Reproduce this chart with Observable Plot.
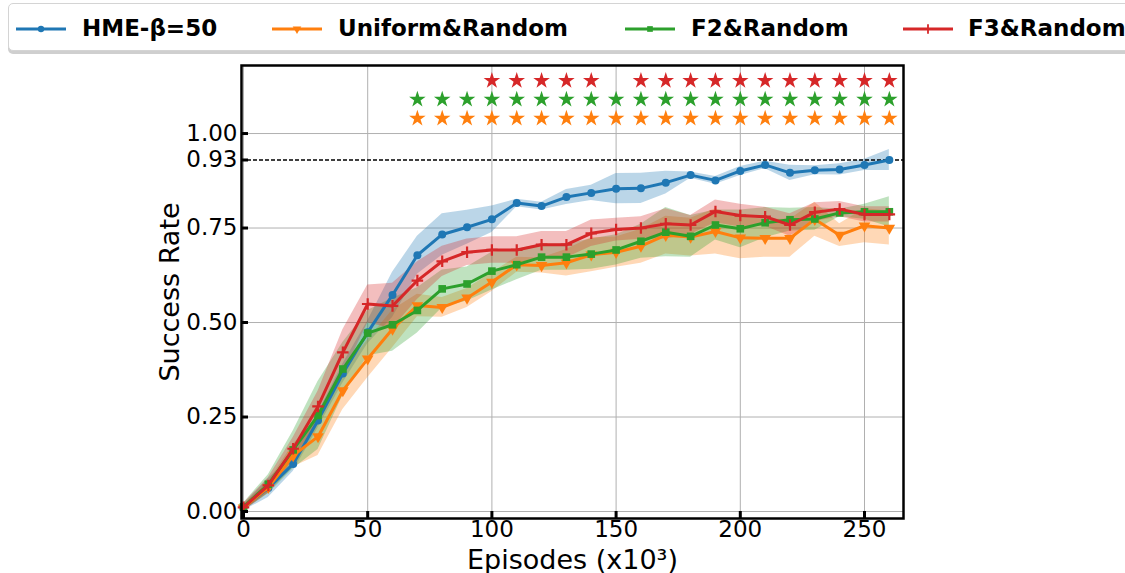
<!DOCTYPE html>
<html>
<head>
<meta charset="utf-8">
<script src="https://cdn.jsdelivr.net/npm/d3@7"></script>
<script src="https://cdn.jsdelivr.net/npm/@observablehq/plot@0.6"></script>
<style>
html, body { margin: 0; padding: 0; background: #fff; width: 1125px; height: 573px; overflow: hidden; }
#legend { position: relative; width: 1125px; height: 55px; overflow: hidden; font-family: "DejaVu Sans"; font-weight: bold; font-size: 23px; color: #000; }
#legend .box { position: absolute; left: 8px; top: 3px; width: 1150px; height: 46px; border: 1px solid #d4d4d4; border-radius: 5px; box-shadow: 0 3px 0 #cfcfcf; background: #fff; }
#legend .sample { position: absolute; top: 19px; }
#legend .label { position: absolute; top: 15px; line-height: 27px; white-space: nowrap; }
#chart svg { display: block; }
</style>
</head>
<body>
<div id="legend"><div class="box"></div></div>
<div id="chart"></div>
<script>
// ---------------- data ----------------
const episodes = [0,10,20,30,40,50,60,70,80,90,100,110,120,130,140,150,160,170,180,190,200,210,220,230,240,250,260];

const seriesNames = ["HME-β=50", "Uniform&Random", "F2&Random", "F3&Random"];
const seriesColors = ["#1f77b4", "#ff7f0e", "#2ca02c", "#d62728"];

const hmeMean = [0.010,0.062,0.126,0.241,0.365,0.474,0.573,0.678,0.733,0.752,0.773,0.816,0.808,
                 0.832,0.843,0.854,0.855,0.870,0.890,0.876,0.901,0.917,0.896,0.903,0.905,0.917,0.930];
const hmeStd  = [0.008,0.025,0.020,0.020,0.025,0.030,0.060,0.050,0.055,0.045,0.035,0.010,0.010,
                 0.020,0.020,0.040,0.040,0.030,0.008,0.010,0.012,0.010,0.020,0.012,0.015,0.015,0.028];

const uniMean = [0.010,0.064,0.148,0.198,0.320,0.404,0.483,0.545,0.540,0.565,0.607,0.653,0.651,
                 0.658,0.679,0.686,0.702,0.731,0.726,0.741,0.724,0.723,0.723,0.773,0.731,0.756,0.750];
const uniStd  = [0.008,0.015,0.030,0.050,0.050,0.050,0.050,0.030,0.026,0.025,0.025,0.020,0.020,
                 0.035,0.045,0.040,0.045,0.050,0.050,0.060,0.055,0.050,0.050,0.045,0.030,0.045,0.045];

const f2Mean  = [0.012,0.072,0.163,0.254,0.377,0.472,0.494,0.532,0.589,0.602,0.636,0.653,0.673,
                 0.673,0.681,0.692,0.715,0.739,0.728,0.758,0.748,0.764,0.772,0.774,0.790,0.793,0.793];
const f2Std   = [0.010,0.025,0.050,0.090,0.070,0.060,0.070,0.060,0.050,0.045,0.050,0.040,0.035,
                 0.035,0.040,0.040,0.045,0.065,0.055,0.040,0.050,0.040,0.030,0.030,0.010,0.020,0.040];

const f3Mean  = [0.011,0.069,0.166,0.278,0.421,0.549,0.544,0.611,0.662,0.686,0.692,0.692,0.706,
                 0.706,0.736,0.746,0.750,0.761,0.758,0.794,0.783,0.780,0.758,0.792,0.800,0.786,0.786];
const f3Std   = [0.010,0.020,0.030,0.040,0.060,0.050,0.060,0.050,0.040,0.035,0.035,0.035,0.035,
                 0.035,0.035,0.030,0.030,0.040,0.025,0.030,0.030,0.025,0.030,0.025,0.020,0.020,0.020];

// significance markers (episodes where a star is shown)
const uniStars = [70,80,90,100,110,120,130,140,150,160,170,180,190,200,210,220,230,240,250,260];
const f2Stars  = [70,80,90,100,110,120,130,140,150,160,170,180,190,200,210,220,230,240,250,260];
const f3Stars  = [100,110,120,130,140,160,170,180,190,200,210,220,230,240,250,260];

const threshold = 0.93;
const yTicks = [0, 0.25, 0.5, 0.75, 0.93, 1.0];
const xTicks = [0, 50, 100, 150, 200, 250];
const yGrid = [0, 0.25, 0.5, 0.75, 1.0];

// ---------------- build tables ----------------
const means = [hmeMean, uniMean, f2Mean, f3Mean];
const stds = [hmeStd, uniStd, f2Std, f3Std];
const series = seriesNames.map((name, i) =>
  episodes.map((ep, j) => ({name, ep, m: means[i][j], s: stds[i][j]})));

const starRowLevel = {"Uniform&Random": 1.04, "F2&Random": 1.09, "F3&Random": 1.14};
const starTable = [
  ...uniStars.map(ep => ({name: "Uniform&Random", ep})),
  ...f2Stars.map(ep => ({name: "F2&Random", ep})),
  ...f3Stars.map(ep => ({name: "F3&Random", ep}))
];
const colorOf = Object.fromEntries(seriesNames.map((n, i) => [n, seriesColors[i]]));

// custom downward triangle symbol
const triangleDown = {
  draw(context, size) {
    const y = -Math.sqrt(size / (Math.sqrt(3) * 3));
    context.moveTo(0, -y * 2);
    context.lineTo(-Math.sqrt(3) * y, y);
    context.lineTo(Math.sqrt(3) * y, y);
    context.closePath();
  }
};
const symbols = ["circle", triangleDown, "square", "plus"];
const symbolR = [4, 4.3, 4.3, 3.8];

// ---------------- marks ----------------
const marks = [
  Plot.gridX(xTicks, {stroke: "#b0b0b0", strokeOpacity: 1, strokeWidth: 1}),
  Plot.gridY(yGrid, {stroke: "#b0b0b0", strokeOpacity: 1, strokeWidth: 1}),
  ...series.map((data, i) => Plot.areaY(data, {
    x: "ep", y1: d => d.m - d.s, y2: d => d.m + d.s,
    fill: seriesColors[i], fillOpacity: 0.3, curve: "linear"
  })),
  Plot.ruleY([threshold], {stroke: "black", strokeWidth: 1.3, strokeDasharray: "4,2"}),
];
series.forEach((data, i) => {
  marks.push(Plot.line(data, {x: "ep", y: "m", stroke: seriesColors[i], strokeWidth: 3}));
  if (symbols[i] === "plus") {
    marks.push(Plot.dot(data, {x: "ep", y: "m", symbol: "plus", stroke: seriesColors[i], strokeWidth: 2.2, r: symbolR[i]}));
  } else {
    marks.push(Plot.dot(data, {x: "ep", y: "m", symbol: symbols[i], fill: seriesColors[i], stroke: "none", r: symbolR[i]}));
  }
});
marks.push(
  Plot.dot(starTable, {x: "ep", y: d => starRowLevel[d.name], symbol: "star",
    fill: d => colorOf[d.name], stroke: "none", r: 5.2}),
  Plot.frame({stroke: "black", strokeWidth: 2.5}),
  Plot.axisY({ticks: yTicks, tickFormat: d => d.toFixed(2), tickSize: -7, tickPadding: 11,
    strokeWidth: 3, fontSize: 23, label: null}),
  Plot.axisX({ticks: xTicks, tickFormat: d => String(d), tickSize: -7, tickPadding: 9,
    strokeWidth: 3, fontSize: 23, label: null}),
  Plot.text(["Success Rate"], {frameAnchor: "left", rotate: -90, dx: -71, textAnchor: "middle",
    lineAnchor: "middle", fontSize: 27, fill: "black"}),
  Plot.text(["Episodes (x10³)"], {frameAnchor: "bottom", dy: 50, textAnchor: "middle",
    lineAnchor: "bottom", fontSize: 27, fill: "black"})
);

const chart = Plot.plot({
  width: 1125,
  height: 518,
  marginLeft: 241,
  marginRight: 222,
  marginTop: 10,
  marginBottom: 55,
  style: {fontFamily: "DejaVu Sans", background: "white", color: "black"},
  x: {domain: [-0.8, 265.7]},
  y: {domain: [-0.0185, 1.18]},
  color: {type: "identity"},
  marks
});
document.getElementById("chart").appendChild(chart);

// ---------------- legend ----------------
const legend = document.getElementById("legend");
const sampleX = [15, 271, 624, 902];
const labelX = [82, 338, 691, 968];
const d3Symbols = [d3.symbolCircle, null, d3.symbolSquare, d3.symbolPlus];
seriesNames.forEach((name, i) => {
  const svg = d3.create("svg").attr("class", "sample").attr("width", 52).attr("height", 20)
    .style("left", sampleX[i] + "px");
  svg.append("line").attr("x1", 1).attr("x2", 51).attr("y1", 10).attr("y2", 10)
    .attr("stroke", seriesColors[i]).attr("stroke-width", 3);
  const r = 3.2;
  const size = Math.PI * r * r;
  let path;
  if (i === 1) {
    const p = d3.path(); triangleDown.draw(p, size); path = p.toString();
  } else {
    path = d3.symbol(d3Symbols[i], size)();
  }
  const g = svg.append("path").attr("d", path).attr("transform", "translate(26,10)");
  if (i === 3) g.attr("fill", "none").attr("stroke", seriesColors[i]).attr("stroke-width", 1.8);
  else g.attr("fill", seriesColors[i]);
  legend.appendChild(svg.node());
  const span = document.createElement("span");
  span.className = "label";
  span.style.left = labelX[i] + "px";
  span.textContent = name;
  legend.appendChild(span);
});
</script>
</body>
</html>
